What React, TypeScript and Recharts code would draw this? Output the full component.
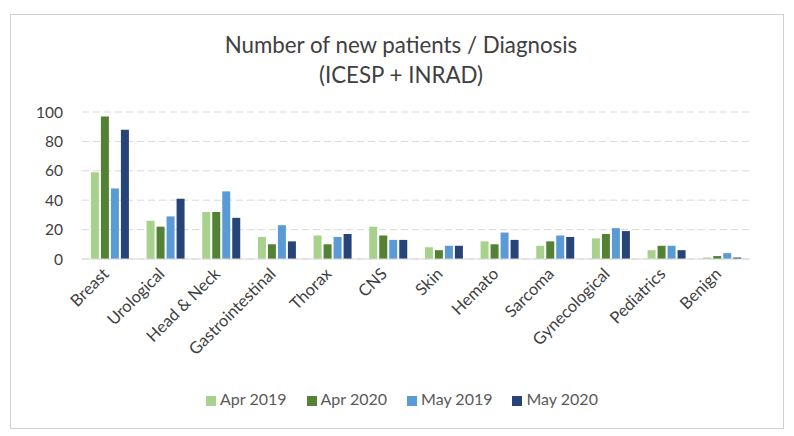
import { Bar, BarChart, CartesianGrid, Legend, XAxis, YAxis } from "recharts";

const categories = [
  "Breast",
  "Urological",
  "Head & Neck",
  "Gastrointestinal",
  "Thorax",
  "CNS",
  "Skin",
  "Hemato",
  "Sarcoma",
  "Gynecological",
  "Pediatrics",
  "Benign",
];
const apr2019 = [59, 26, 32, 15, 16, 22, 8, 12, 9, 14, 6, 1];
const apr2020 = [97, 22, 32, 10, 10, 16, 6, 10, 12, 17, 9, 2];
const may2019 = [48, 29, 46, 23, 15, 13, 9, 18, 16, 21, 9, 4];
const may2020 = [88, 41, 28, 12, 17, 13, 9, 13, 15, 19, 6, 1];
const yTicks = [0, 20, 40, 60, 80, 100];

const series = [
  { key: "apr2019", name: "Apr 2019", color: "#A9D18E" },
  { key: "apr2020", name: "Apr 2020", color: "#548235" },
  { key: "may2019", name: "May 2019", color: "#5B9BD5" },
  { key: "may2020", name: "May 2020", color: "#264478" },
];

const data = categories.map((c, i) => ({
  name: c,
  apr2019: apr2019[i],
  apr2020: apr2020[i],
  may2019: may2019[i],
  may2020: may2020[i],
}));

const FONT = "Lato, 'Open Sans', sans-serif";

function AngledTick(props: any) {
  const { x, y, payload } = props;
  return (
    <text
      x={x}
      y={y + 8}
      transform={`rotate(-45 ${x} ${y + 8})`}
      textAnchor="end"
      fontSize={16.5}
      fontFamily={FONT}
      fill="#404040"
    >
      {payload.value}
    </text>
  );
}

export default function App() {
  return (
    <div style={{ position: "absolute", top: 0, left: 0, width: 794, height: 436, background: "#fff" }}>
      <div
        style={{
          position: "absolute",
          left: 10,
          top: 14,
          width: 772,
          height: 413,
          border: "1px solid #D0D0D0",
        }}
      />
      <div
        style={{
          position: "absolute",
          top: 30,
          left: 0,
          width: 802,
          textAlign: "center",
          fontFamily: FONT,
          fontSize: 22.3,
          lineHeight: "30px",
          color: "#404040",
        }}
      >
        Number of new patients / Diagnosis
        <br />
        (ICESP + INRAD)
      </div>
      <div style={{ position: "absolute", top: 0, left: 0 }}>
        <BarChart
          width={794}
          height={436}
          data={data}
          margin={{ top: 112, right: 44, bottom: 0, left: 28 }}
          barCategoryGap="16%"
          barGap={2}
        >
          <CartesianGrid
            vertical={false}
            stroke="#D9D9D9"
            strokeDasharray="7 4"
          />
          <XAxis
            dataKey="name"
            interval={0}
            tick={<AngledTick />}
            tickLine={false}
            axisLine={{ stroke: "#D9D9D9" }}
            height={130}
          />
          <YAxis
            domain={[0, 100]}
            ticks={yTicks}
            width={54}
            tickLine={false}
            tickMargin={13}
            axisLine={false}
            tick={{ fontSize: 15.5, fill: "#404040", fontFamily: FONT }}
          />
          <Legend
            verticalAlign="bottom"
            iconType="square"
            iconSize={10}
            height={47}
            wrapperStyle={{ fontFamily: FONT, fontSize: 16, color: "#595959", left: 15, width: 794 }}
            formatter={(value) => <span style={{ color: "#595959", marginRight: 10 }}>{value}</span>}
          />
          {series.map((s) => (
            <Bar
              key={s.key}
              dataKey={s.key}
              name={s.name}
              fill={s.color}
              isAnimationActive={false}
            />
          ))}
        </BarChart>
      </div>
    </div>
  );
}
